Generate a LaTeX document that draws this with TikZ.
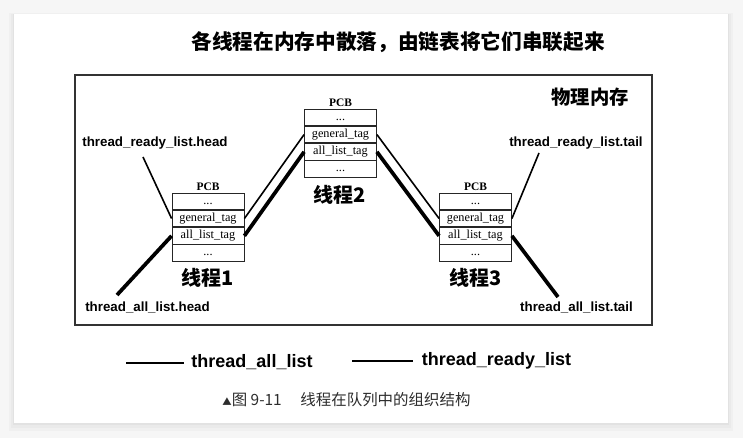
\documentclass[tikz,border=0pt]{standalone}
\usepackage{fontspec}
\setmainfont{Liberation Serif}
\newfontfamily\lsans{Liberation Sans}
\newfontfamily\cjk{Noto Sans CJK SC}
\usetikzlibrary{positioning}
\definecolor{bgcol}{RGB}{246,246,246}
\definecolor{capcol}{RGB}{45,45,45}
\tikzset{
  pcbrow/.style={draw=black!85, line width=0.6pt, minimum width=54pt, minimum height=12.375pt,
    inner sep=0pt, text height=6.2pt, text depth=2pt, font=\fontsize{9.2}{10}\selectfont},
  pcblabel/.style={inner sep=1pt, font=\bfseries\fontsize{8.6}{9}\selectfont},
  thname/.style={inner sep=1pt, font=\cjk\bfseries\fontsize{15}{18}\selectfont},
  ptrlabel/.style={inner sep=1pt, font=\lsans\bfseries\fontsize{10}{12}\selectfont},
  readyline/.style={line width=1.2pt, black},
  allline/.style={line width=2.8pt, black},
  legtext/.style={inner sep=1pt, font=\lsans\bfseries\fontsize{13.5}{16}\selectfont},
}
\newcommand\pcbstack[3]{%
  \node[pcbrow] (#1a) at (#2,{#3+8.25}) {...};
  \node[pcbrow, below=0pt of #1a] (#1g) {general\_tag};
  \node[pcbrow, below=0pt of #1g] (#1l) {all\_list\_tag};
  \node[pcbrow, below=0pt of #1l] (#1b) {...};
  \node[pcblabel, above=0.5pt of #1a] (#1p) {PCB};
}
\begin{document}
\begin{tikzpicture}[x=0.75pt,y=-0.75pt]
\useasboundingbox (0,0) rectangle (743,438);
\fill[bgcol] (0,0) rectangle (743,438);
\fill[black,opacity=0.025] (9,13) rectangle (733,431);
\fill[black,opacity=0.025] (11,14) rectangle (731,428);
\fill[black,opacity=0.03] (13,14) rectangle (729,425);
\fill[white] (14,14) rectangle (728,423);

% title
\node[font=\cjk\bfseries\fontsize{15.5}{18}\selectfont] (title) at (398,42) {各线程在内存中散落，由链表将它们串联起来};

% memory frame
\node[draw=black!80, line width=0.8pt, minimum width=432.75pt, minimum height=187.5pt, inner sep=0pt] (mem) at (363.5,200) {};
\node[font=\cjk\bfseries\fontsize{14.5}{17}\selectfont] (memlabel) at (590,97) {物理内存};

% PCBs
\pcbstack{t1}{208}{193}
\pcbstack{t2}{340.5}{109}
\pcbstack{t3}{475.5}{193}

\node[thname] (n1) at (208,278) {线程1};
\node[thname] (n2) at (340,195) {线程2};
\node[thname] (n3) at (476,278) {线程3};

% pointer labels
\node[ptrlabel] (rh) at (155,143) {thread\_ready\_list.head};
\node[ptrlabel] (ah) at (147.5,307) {thread\_all\_list.head};
\node[ptrlabel] (rt) at (576,143) {thread\_ready\_list.tail};
\node[ptrlabel] (at) at (576.5,307) {thread\_all\_list.tail};

\coordinate (rhs) at (143,157);
\coordinate (ahs) at (117,295);
\coordinate (rte) at (539,153);
\coordinate (ate) at (558,297);

% ready list (thin)
\draw[readyline] (rhs) -- (t1g.west);
\draw[readyline] (t1g.east) -- (t2g.west);
\draw[readyline] (t2g.east) -- (t3g.west);
\draw[readyline] (t3g.east) -- (rte);

% all list (thick)
\draw[allline] (ahs) -- (t1l.west);
\draw[allline] (t1l.east) -- (t2l.west);
\draw[allline] (t2l.east) -- (t3l.west);
\draw[allline] (t3l.east) -- (ate);

% legend
\coordinate (lg1s) at (126,363);
\coordinate (lg1e) at (184,363);
\coordinate (lg2s) at (352,361);
\coordinate (lg2e) at (413,361);
\draw[line width=1.8pt] (lg1s) -- (lg1e);
\draw[line width=1pt] (lg2s) -- (lg2e);
\node[legtext] (lt1) at (252,362) {thread\_all\_list};
\node[legtext] (lt2) at (496.5,361) {thread\_ready\_list};

% caption
\node[text=capcol, font=\cjk\fontsize{11.6}{14}\selectfont] (cap) at (346.5,400)
  {{\fontsize{7}{8}\selectfont ▲}图 9-11\hspace{1.2em}线程在队列中的组织结构};
\end{tikzpicture}
\end{document}
